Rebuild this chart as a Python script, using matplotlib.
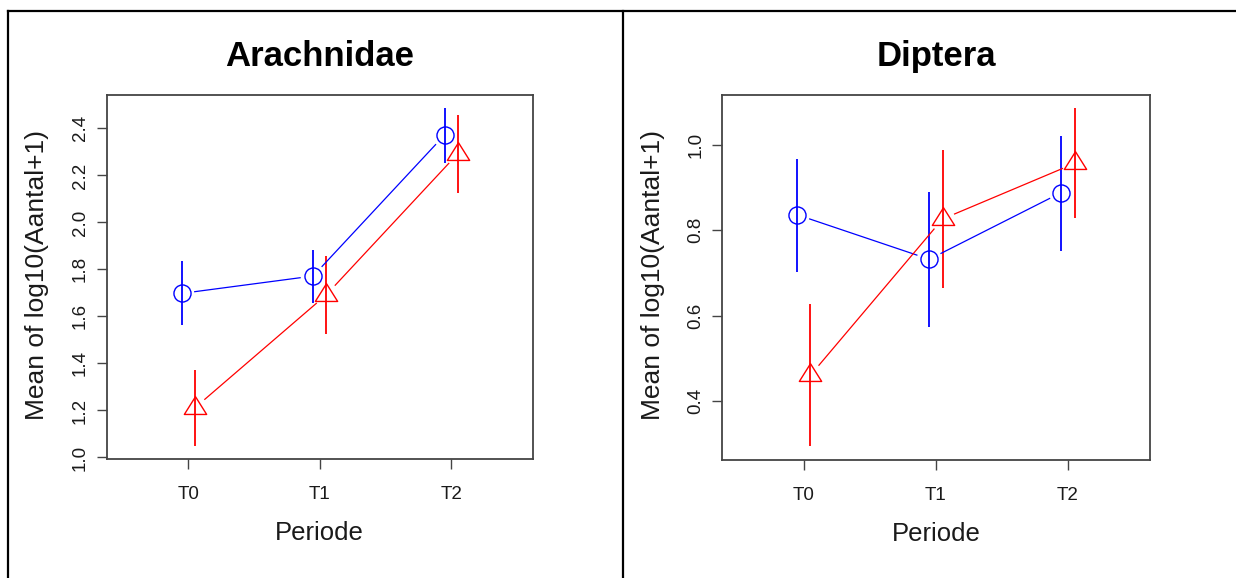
import numpy as np
import matplotlib
matplotlib.use("Agg")
import matplotlib.pyplot as plt
from matplotlib.path import Path
from matplotlib.lines import Line2D

plt.rcParams['font.family'] = ['Liberation Sans', 'DejaVu Sans']

# ---------------- data ----------------
periods = ['T0', 'T1', 'T2']
titles = ['Arachnidae', 'Diptera']

arach_circle_mean = [1.698, 1.772, 2.372]
arach_circle_lo = [1.562, 1.659, 2.251]
arach_circle_hi = [1.837, 1.881, 2.486]
arach_tri_mean = [1.211, 1.692, 2.292]
arach_tri_lo = [1.050, 1.526, 2.127]
arach_tri_hi = [1.372, 1.859, 2.457]
arach_yticks = [1.0, 1.2, 1.4, 1.6, 1.8, 2.0, 2.2, 2.4]

dipt_circle_mean = [0.836, 0.732, 0.888]
dipt_circle_lo = [0.703, 0.574, 0.752]
dipt_circle_hi = [0.966, 0.890, 1.020]
dipt_tri_mean = [0.461, 0.826, 0.956]
dipt_tri_lo = [0.295, 0.666, 0.828]
dipt_tri_hi = [0.627, 0.987, 1.085]
dipt_yticks = [0.4, 0.6, 0.8, 1.0]

ylabel = 'Mean of log10(Aantal+1)'
xlabel = 'Periode'

# ---------------- figure ----------------
W, H, DPI = 1236, 578, 100
fig = plt.figure(figsize=(W / DPI, H / DPI), dpi=DPI)
fig.patch.set_facecolor('white')


def px_axes(x0, x1, ytop, ybot):
    return [x0 / W, 1 - ybot / H, (x1 - x0) / W, (ybot - ytop) / H]


tri_path = Path([(0, 11.1), (-10.5, -5.6), (10.5, -5.6), (0, 11.1)],
                [Path.MOVETO, Path.LINETO, Path.LINETO, Path.CLOSEPOLY])

BLUE = '#0000FF'
RED = '#FF0000'
GAP = 12.5  # px gap around points (R type="b")
TICKLEN = 7.5
LABEL_C = '#1a1a1a'
BOX_C = '#444444'


def gapped_line(ax, xs, ys, color):
    pts = ax.transData.transform(np.column_stack([xs, ys]))
    inv = ax.transData.inverted()
    for i in range(len(pts) - 1):
        p0, p1 = pts[i], pts[i + 1]
        d = p1 - p0
        L = np.hypot(d[0], d[1])
        if L <= 2 * GAP:
            continue
        u = d / L
        a = inv.transform(p0 + u * GAP)
        b = inv.transform(p1 - u * GAP)
        ax.plot([a[0], b[0]], [a[1], b[1]], color=color, lw=0.9,
                solid_capstyle='butt', zorder=3)


def panel(rect, title, cm, clo, chi, tm, tlo, thi, yticks, ylab_x):
    ax = fig.add_axes(rect)
    x = np.arange(1, len(periods) + 1)
    xc = x - 0.05
    xt = x + 0.05
    lo = min(min(clo), min(tlo))
    hi = max(max(chi), max(thi))
    pad = 0.04 * (hi - lo)
    ax.set_ylim(lo - pad, hi + pad)
    ax.set_xlim(0.38, 3.62)

    # error bars
    ax.vlines(xc, clo, chi, color=BLUE, lw=1.3, zorder=2)
    ax.vlines(xt, tlo, thi, color=RED, lw=1.3, zorder=2)
    # connecting lines with gaps
    gapped_line(ax, xc, cm, BLUE)
    gapped_line(ax, xt, tm, RED)
    # markers
    ax.plot(xc, cm, linestyle='none', marker='o', markersize=12.3,
            markerfacecolor='none', markeredgecolor=BLUE, markeredgewidth=1.0,
            zorder=4)
    ax.plot(xt, tm, linestyle='none', marker=tri_path, markersize=17,
            markerfacecolor='none', markeredgecolor=RED, markeredgewidth=1.0,
            zorder=4)

    # ticks
    ax.set_xticks(x, periods)
    ax.set_yticks(yticks, [f'{v:.1f}' for v in yticks])
    ax.tick_params(axis='both', direction='out', length=TICKLEN, width=1.0,
                   color=BOX_C, labelcolor=LABEL_C, labelsize=13.5)
    ax.tick_params(axis='y', pad=8.2)
    ax.tick_params(axis='x', pad=21.3)
    for lab in ax.get_yticklabels():
        lab.set_rotation(90)
        lab.set_rotation_mode('anchor')
        lab.set_horizontalalignment('center')
        lab.set_verticalalignment('baseline')
    for lab in ax.get_xticklabels():
        lab.set_rotation_mode('anchor')
        lab.set_horizontalalignment('center')
        lab.set_verticalalignment('baseline')

    for s in ax.spines.values():
        s.set_color(BOX_C)
        s.set_linewidth(1.3)

    # labels
    ax.set_title(title, fontsize=25, fontweight='bold', y=1.078, pad=0,
                 va='baseline')
    ax.set_xlabel(xlabel, fontsize=18.5, color=LABEL_C)
    ax.xaxis.label.set_verticalalignment('baseline')
    ax.xaxis.set_label_coords(0.5, -0.2223)
    ax.set_ylabel(ylabel, fontsize=19, color=LABEL_C)
    ax.yaxis.label.set_verticalalignment('baseline')
    ax.yaxis.set_label_coords(ylab_x, 0.505)
    return ax


ax1 = panel(px_axes(106.8, 532.6, 94.7, 459.2), titles[0],
            arach_circle_mean, arach_circle_lo, arach_circle_hi,
            arach_tri_mean, arach_tri_lo, arach_tri_hi, arach_yticks, -0.1468)
ax2 = panel(px_axes(722.0, 1149.8, 94.7, 459.8), titles[1],
            dipt_circle_mean, dipt_circle_lo, dipt_circle_hi,
            dipt_tri_mean, dipt_tri_lo, dipt_tri_hi, dipt_yticks, -0.1442)

# outer frame lines
def fline(x0, y0, x1, y1):
    fig.add_artist(Line2D([x0 / W, x1 / W], [1 - y0 / H, 1 - y1 / H],
                          transform=fig.transFigure, color='black', lw=1.6,
                          solid_capstyle='projecting'))

fline(8, 11, W, 11)
fline(8, 11, 8, H)
fline(623, 11, 623, H)

fig.savefig('out.png', dpi=DPI)
